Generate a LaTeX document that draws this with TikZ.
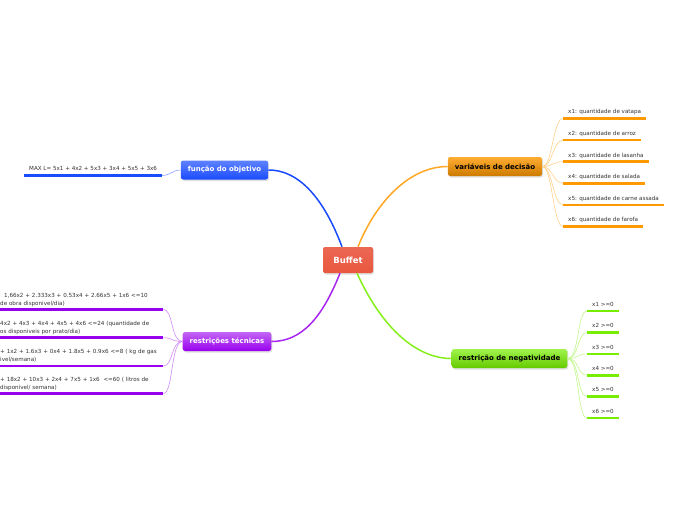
\documentclass[tikz,border=0pt]{standalone}
\usepackage{fontspec}
\setmainfont{DejaVu Sans}
\usepackage{tikz}
\usetikzlibrary{shadows}
\definecolor{mred}{HTML}{E9573F}
\definecolor{mblue}{HTML}{1A4CFF}
\definecolor{morange}{HTML}{FF9900}
\definecolor{mgreen}{HTML}{77EE00}
\definecolor{mpurple}{HTML}{9900EE}
\definecolor{leaftext}{HTML}{333333}
\tikzset{
  root/.style = {rounded corners=2pt, top color=mred!90!white, bottom color=mred,
    text=white, font=\bfseries\fontsize{8.5}{10}\selectfont, minimum width=50pt,
    minimum height=26pt, drop shadow={shadow xshift=1pt, shadow yshift=-1.5pt, opacity=0.25}},
  topic/.style = {rounded corners=2.5pt, minimum height=19pt, inner xsep=7pt,
    font=\bfseries\fontsize{7}{8}\selectfont,
    drop shadow={shadow xshift=1pt, shadow yshift=-1.5pt, opacity=0.25}},
  leaf/.style = {inner xsep=5pt, inner ysep=4.5pt, text depth=0pt, text=leaftext,
    font=\fontsize{5.6}{8}\selectfont},
  branch/.style = {line width=1.5pt},
  twig/.style = {line width=0.6pt},
  underline/.style = {line width=2.6pt}
}

\begin{document}
\begin{tikzpicture}[x=1pt, y=-1pt]
  \useasboundingbox (0, 0) rectangle (696, 520);
  \fill [white] (0, 0) rectangle (696, 520);

  \node [root] (buffet) at (348, 260) {Buffet};
  \node [topic, top color=mblue!70!white, bottom color=mblue, text=white] (obj) at (224.5, 170) {função do objetivo};
  \node [topic, top color=morange!80!white, bottom color=morange!80!black] (vars) at (495, 166.5) {variáveis de decisão};
  \node [topic, top color=mgreen!70!white, bottom color=mgreen!85!black] (neg) at (509.5, 358.5) {restrição de negatividade};
  \node [topic, top color=mpurple!60!white, bottom color=mpurple, text=white] (tec) at (227, 341.5) {restrições técnicas};

  \draw [branch, mblue] ([xshift=-6pt]buffet.north) .. controls +(-15, -40) and +(35, 0) .. (obj.east);
  \draw [branch, morange!85!white] ([xshift=10pt]buffet.north) .. controls +(18, -45) and +(-38, 0) .. (vars.west);
  \draw [branch, mpurple!85!white] ([xshift=-8pt]buffet.south) .. controls +(-18, 45) and +(30, 0) .. (tec.east);
  \draw [branch, mgreen!90!white] ([xshift=9pt]buffet.south) .. controls +(25, 55) and +(-35, 0) .. (neg.west);

  % funcao do objetivo
  \node [leaf, anchor=south west] (o1) at (24, 175.5) {MAX L= 5x1 + 4x2 + 5x3 + 3x4 + 5x5 + 3x6};
  \draw [underline, mblue] (o1.south west) -- (o1.south east);
  \draw [twig, mblue!50!white] (obj.west) .. controls +(-8, 0) and +(8, 0) .. (o1.south east);

  % variaveis de decisao
  \foreach \i/\food in {1/vatapa, 2/arroz, 3/lasanha, 4/salada, 5/carne assada, 6/farofa} {
    \node [leaf, anchor=south west] (v\i) at (563, {118.5 + 21.6*(\i - 1)}) {x\i: quantidade de \food};
    \draw [underline, morange] (v\i.south west) -- (v\i.south east);
    \draw [twig, morange!45!white] (vars.east) .. controls +(10, 0) and +(-10, 0) .. (v\i.south west);
  }

  % restricao de negatividade
  \foreach \i in {1, ..., 6} {
    \node [leaf, anchor=south west] (n\i) at (587, {311 + 21.4*(\i - 1)}) {x\i{} >=0};
    \draw [underline, mgreen] (n\i.south west) -- (n\i.south east);
    \draw [twig, mgreen!45!white] (neg.east) .. controls +(12, 0) and +(-10, 0) .. (n\i.south west);
  }

  % restricoes tecnicas
  \foreach \i/\y/\txt in {
      1/309.3/{\hspace*{4pt}1,66x2 + 2.333x3 + 0.53x4 + 2.66x5 + 1x6 <=10\\de obra disponivel/dia)},
      2/337.7/{4x2 + 4x3 + 4x4 + 4x5 + 4x6 <=24 (quantidade de\\os disponiveis por prato/dia)},
      3/366/{+ 1x2 + 1.6x3 + 0x4 + 1.8x5 + 0.9x6 <=8 ( kg de gas\\ivel/semana)},
      4/393.5/{+ 18x2 + 10x3 + 2x4 + 7x5 + 1x6 \ <=60 ( litros de\\disponivel/ semana)}} {
    \node [leaf, anchor=south west, inner xsep=0pt, inner ysep=4pt, text depth=8pt,
      text width=163pt, align=left] (t\i) at (0, \y) {\txt};
    \draw [underline, mpurple] (t\i.south west) -- (t\i.south east);
    \draw [twig, mpurple!45!white] (tec.west) .. controls +(-12, 0) and +(10, 0) .. (t\i.south east);
  }
\end{tikzpicture}
\end{document}
